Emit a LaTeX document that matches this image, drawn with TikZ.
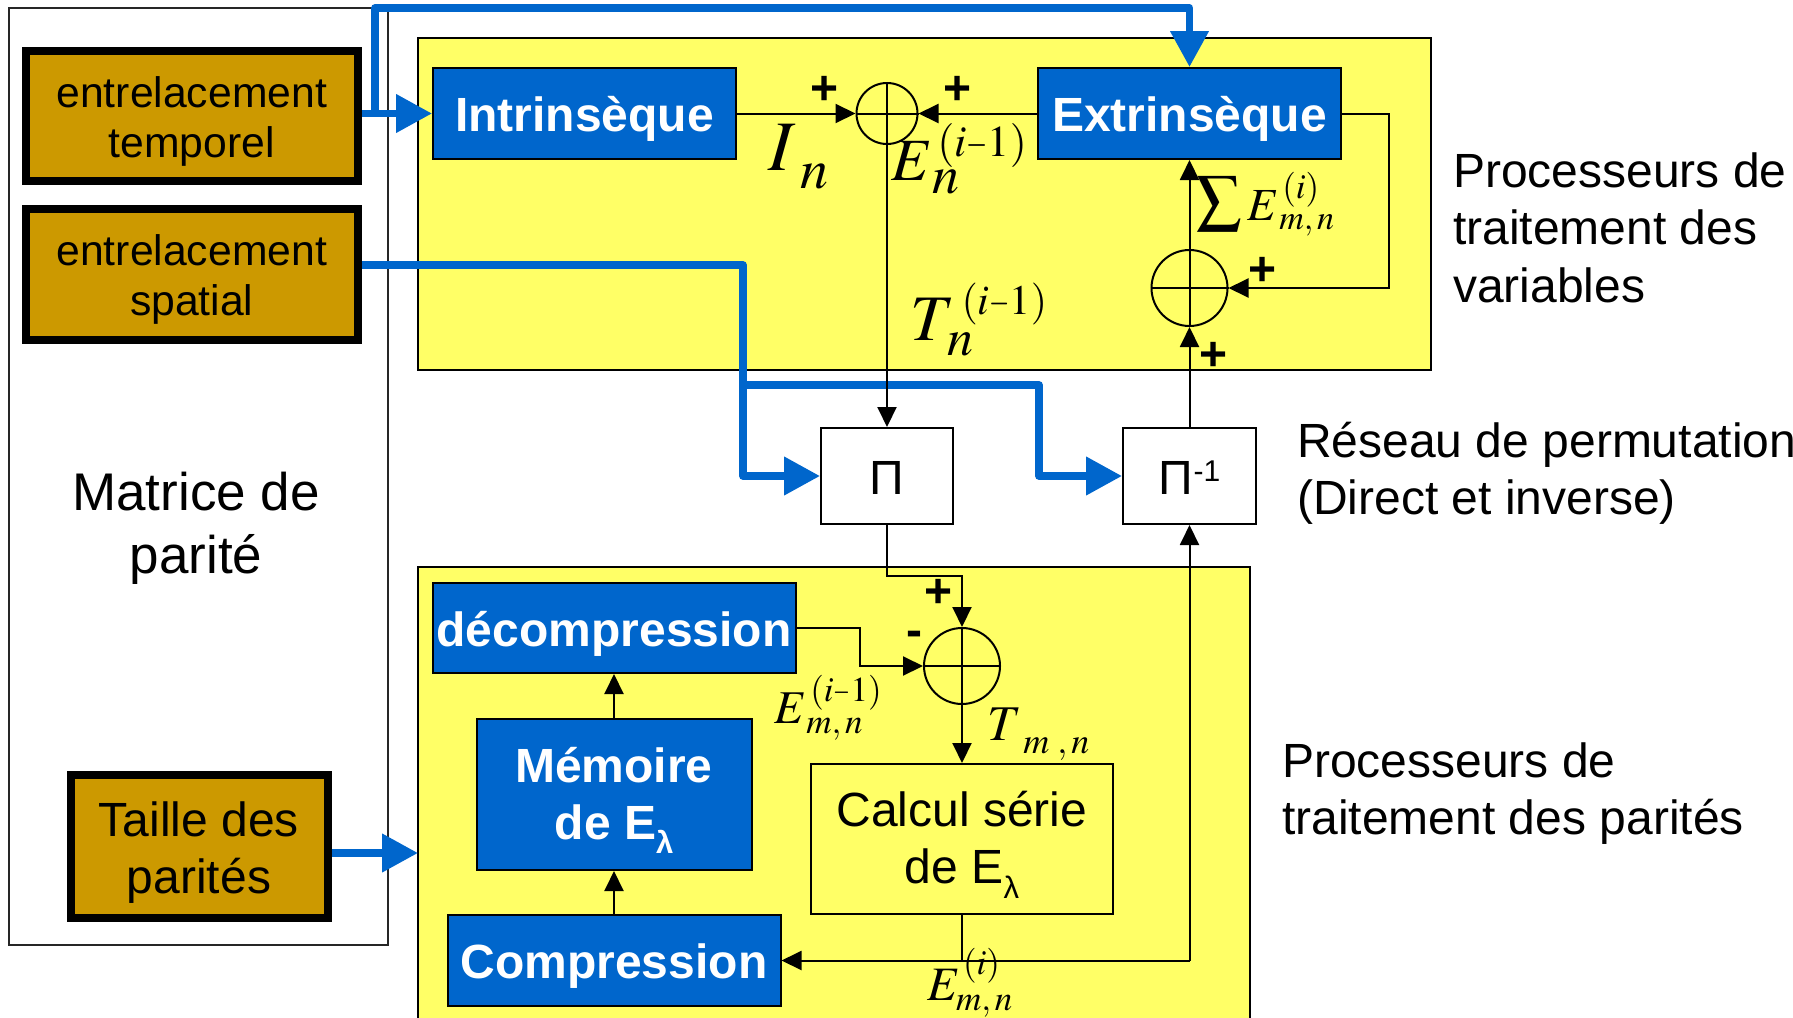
\documentclass[tikz,border=0pt]{standalone}
\usepackage{graphicx}
\usepackage{mathptmx}
\usepackage[no-math]{fontspec}
\setmainfont{Liberation Sans}
\usetikzlibrary{arrows.meta}

\definecolor{procblue}{HTML}{0066CC}
\definecolor{ochre}{HTML}{CC9900}
\definecolor{procyellow}{HTML}{FFFF66}

\newcommand\fsz[2]{\fontsize{#1}{#2}\selectfont}
\newcommand\linestrut{\rule[-0.2em]{0pt}{1.17em}}
\newcommand\mbase[2]{{\fontsize{#1}{#1}\selectfont$#2$}}
\newcommand\msubs[3]{\raisebox{-#2}{\fontsize{#1}{#1}\selectfont$#3$}}
\newcommand\msups[3]{\raisebox{#2}{\fontsize{#1}{#1}\selectfont$#3$}}
\newcommand\nminus{\mathord{\scalebox{0.62}[1]{$-$}}}

\tikzset{
  wire/.style={draw=black, line width=2pt},
  arr/.style={wire, -{Triangle[length=20pt,width=19pt]}},
  bluewire/.style={draw=procblue, line width=7.5pt, line join=round},
  bluearr/.style={bluewire, -{Triangle[length=36pt,width=37pt]}},
  ochrebox/.style={rectangle, draw=black, line width=8pt, fill=ochre, inner sep=0pt, align=center, font=\fsz{42.7}{50}},
  procbox/.style={rectangle, draw=black, line width=2pt, fill=procblue, text=white, inner sep=0pt, align=center, font=\bfseries\fsz{48}{57}},
  permbox/.style={rectangle, draw=black, line width=2pt, fill=white, inner sep=0pt, minimum width=132pt, minimum height=96pt, font=\fsz{48}{57}},
  sumnode/.style={circle, draw=black, line width=2pt, inner sep=0pt},
  signlbl/.style={inner sep=0pt, font=\bfseries\fsz{48}{48}},
  mlab/.style={inner sep=0pt, anchor=base west},
  sidenote/.style={inner sep=0pt, anchor=north west, align=left, font=\fsz{48}{57.5}},
}

\begin{document}
\begin{tikzpicture}[x=1pt,y=-1pt]
\useasboundingbox (0,0) rectangle (1793,1017);
\clip (0,0) rectangle (1793,1017);

% parity-check matrix frame
\node[rectangle, draw=black!85, line width=1.6pt, fill=white, minimum width=379pt, minimum height=937pt, inner sep=0pt] (mtx) at (198.5,476.5) {};
\node[inner sep=0pt, anchor=north, align=center, font=\fsz{53}{63}] (mtxlbl) at (196,458.6) {\linestrut Matrice de\\\linestrut parité};

% variable processors
\node[rectangle, draw=black, line width=2pt, fill=procyellow, minimum width=1013pt, minimum height=332pt] (varproc) at (924.5,204) {};
% parity processors (open at the bottom)
\fill[procyellow] (418,567) rectangle (1250,1022);
\draw[wire] (418,1022) -- (418,567) -- (1250,567) -- (1250,1022);
\coordinate (parin) at (418,853);

% interleaver settings
\node[ochrebox, minimum width=332.5pt, minimum height=130pt] (tempo) at (191.75,116) {\linestrut entrelacement\\\linestrut temporel};
\node[ochrebox, minimum width=332.5pt, minimum height=131pt] (spat) at (191.75,274.5) {\linestrut entrelacement\\\linestrut spatial};
\node[ochrebox, minimum width=257pt, minimum height=143.5pt, font=\fsz{48}{57}] (taille) at (199,846.25) {\linestrut Taille des\\\linestrut parités};

% processing blocks
\node[procbox, minimum width=303pt, minimum height=91pt] (intr) at (584.5,113.5) {\linestrut Intrinsèque};
\node[procbox, minimum width=303pt, minimum height=91pt] (extr) at (1189.5,113.5) {\linestrut Extrinsèque};
\node[procbox, minimum width=363pt, minimum height=90pt] (decomp) at (614,628) {\linestrut décompression};
\node[procbox, minimum width=275pt, minimum height=151pt] (mem) at (614,794.5) {\linestrut Mémoire\\\linestrut de E\raisebox{-14pt}{\fsz{31}{31}λ}};
\node[procbox, minimum width=333pt, minimum height=91pt] (comp) at (614,960.5) {\linestrut Compression};
\node[rectangle, draw=black, line width=2pt, fill=procyellow, inner sep=0pt, align=center, font=\fsz{48}{57}, minimum width=302pt, minimum height=150pt] (calc) at (962,839) {\linestrut Calcul série\\\linestrut de E\raisebox{-15pt}{\fsz{31}{31}λ}};

% permutations
\node[permbox] (perm) at (887,476) {\linestrut Π};
\node[permbox, minimum width=133pt] (iperm) at (1189.5,476) {\linestrut Π\raisebox{13pt}{\fsz{30}{30}-1}};

% adders
\node[sumnode, minimum size=61pt] (s1) at (887,113.5) {};
\node[sumnode, minimum size=76pt] (s2) at (1189.5,288) {};
\node[sumnode, minimum size=76pt] (s3) at (962,666) {};
\foreach \s in {s1,s2,s3} \draw[wire] (\s.north) -- (\s.south) (\s.west) -- (\s.east);

% control connections
\coordinate (tbend) at (375,113.5);
\coordinate (ttop) at (375,8);
\draw[bluearr] (tempo.east |- intr.west) -- (intr.west);
\draw[bluearr] (tbend) -- (ttop) -- (ttop -| extr.north) -- (extr.north);
\coordinate (sbend) at (743,265);
\draw[bluearr] (spat.east |- sbend) -- (sbend) -- (sbend |- perm.west) -- (perm.west);
\coordinate (sfork) at (743,385);
\coordinate (ibend) at (1039,385);
\draw[bluearr] (sfork) -- (ibend) -- (ibend |- iperm.west) -- (iperm.west);
\draw[bluearr] (taille.east |- parin) -- (parin);

% data flow
\draw[arr] (intr.east) -- (s1.west);
\draw[arr] (extr.west) -- (s1.east);
\draw[arr] (s1.south) -- (perm.north);
\coordinate (fb) at (1389,288);
\draw[arr] (extr.east) -| (fb) -- (s2.east);
\draw[arr] (s2.north) -- (extr.south);
\draw[arr] (iperm.north) -- (s2.south);
\coordinate (pj) at (887,576);
\draw[arr] (perm.south) -- (pj) -| (s3.north);
\coordinate (dj) at (860,628);
\draw[arr] (decomp.east) -- (dj) |- (s3.west);
\draw[arr] (s3.south) -- (calc.north);
\coordinate (oj) at (962,960.5);
\coordinate (rj) at (1189.5,960.5);
\draw[wire] (calc.south) -- (oj);
\draw[arr] (rj) -- (comp.east);
\draw[arr] (rj) -- (iperm.south);
\draw[arr] (comp.north) -- (mem.south);
\draw[arr] (mem.north) -- (decomp.south);

% signs
\node[signlbl] (pl1) at (825,90.5) {+};
\node[signlbl] (pl2) at (957.5,90.5) {+};
\node[signlbl] (pl3) at (1262,271) {+};
\node[signlbl] (pl4) at (1213,356) {+};
\node[signlbl] (pl5) at (938.5,593) {+};
\node[signlbl] (mi1) at (914,639) {-};

% signal names
\node[mlab] (lIn) at (768,170) {\mbase{71}{I}\kern5pt\msubs{56}{18pt}{n}};
\node[mlab] (lEn) at (891,180) {\mbase{60}{E}\rlap{\kern5pt\msups{44}{24pt}{(i\nminus 1)}}\msubs{54}{13pt}{n}};
\node[mlab] (lTn) at (910,340) {\mbase{65}{T}\kern-7pt\rlap{\kern14pt\msups{42}{26pt}{(i\nminus 1)}}\msubs{52}{15pt}{n}};
\node[mlab] (lsum) at (1196,220) {\mbase{64}{\sum}\kern6pt\mbase{46}{E}\rlap{\kern3pt\msups{35}{22pt}{(i)}}\msubs{34}{9pt}{m,n}};
\node[mlab] (lEmn1) at (774,723) {\mbase{47}{E}\rlap{\kern4pt\msups{35}{22pt}{(i\nminus 1)}}\msubs{35}{10pt}{m,n}};
\node[mlab] (lTmn) at (987,740) {\mbase{50}{T}\kern2pt\msubs{36}{13pt}{m\;,n}};
\node[mlab] (lEmn2) at (927,1000) {\mbase{48}{E}\rlap{\kern3pt\msups{35}{26pt}{(i)}}\kern-4pt\msubs{35}{10pt}{m,n}};

% block descriptions
\node[sidenote] (vartxt) at (1453,140.4) {\linestrut Processeurs de\\\linestrut traitement des\\\linestrut variables};
\node[sidenote] (permtxt) at (1297,410.4) {\linestrut Réseau de permutation\\\linestrut (Direct et inverse)};
\node[sidenote] (partxt) at (1282,730.4) {\linestrut Processeurs de\\\linestrut traitement des parités};
\end{tikzpicture}
\end{document}
